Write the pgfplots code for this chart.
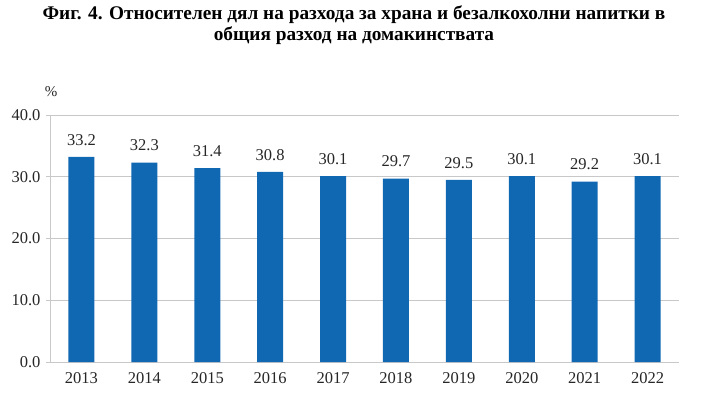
\documentclass[border=0pt]{standalone}
\usepackage{fontspec}
\setmainfont{Liberation Serif}
\usepackage{pgfplots}
\pgfplotsset{compat=1.18}
\definecolor{barblue}{RGB}{16,103,178}
\definecolor{gridgrey}{RGB}{200,200,200}
\begin{document}
\begin{tikzpicture}[x=1pt,y=1pt]
\path[use as bounding box] (0,0) rectangle (715,397);
\node[align=center,font=\fontsize{19.3}{20.5}\selectfont\bfseries,text=black] at (354,372) {Фиг. 4. Относителен дял на разхода за храна и безалкохолни напитки в\\общия разход на домакинствата};
\begin{axis}[
  at={(50pt,35pt)}, anchor=south west,
  scale only axis, width=629pt, height=247pt,
  ymin=0, ymax=40, ytick={0,10,20,30,40},
  xmin=-0.5, xmax=9.5,
  xtick={0,...,9},
  xticklabels={2013,2014,2015,2016,2017,2018,2019,2020,2021,2022},
  minor xtick={-0.5,0.5,...,9.5},
  ymajorgrids, major grid style={gridgrey, line width=0.8pt},
  axis line style={gridgrey, line width=0.8pt},
  axis x line*=bottom, axis y line*=left,
  x axis line style={-}, y axis line style={-},
  xtick style={draw=none},
  minor x tick style={gridgrey, line width=0.8pt},
  minor tick length=5pt,
  ytick style={gridgrey, line width=0.8pt},
  major tick length=4pt,
  tick align=outside,
  /pgf/number format/assume math mode=true,
  /pgf/number format/.cd, fixed, fixed zerofill, precision=1, /pgfplots/.cd,
  tick label style={font=\fontsize{16.5}{18}\selectfont, text=black!85},
  yticklabel style={xshift=-2pt},
  xticklabel style={yshift=-3pt},
  ybar, bar width=26pt,
  nodes near coords,
  every node near coord/.append style={font=\fontsize{16.5}{18}\selectfont, text=black!85, yshift=8pt, /pgf/number format/.cd, fixed, fixed zerofill, precision=1, assume math mode=true},
  clip=false,
]
\addplot[fill=barblue, draw=none] coordinates {(0,33.2) (1,32.3) (2,31.4) (3,30.8) (4,30.1) (5,29.7) (6,29.5) (7,30.1) (8,29.2) (9,30.1)};
\end{axis}
\node[font=\fontsize{15}{16}\selectfont, text=black!85] at (51,305) {\%};
\end{tikzpicture}
\end{document}
